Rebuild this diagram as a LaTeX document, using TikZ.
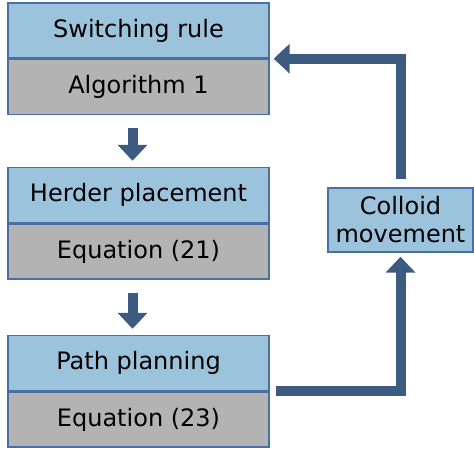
\documentclass[tikz,border=0pt]{standalone}
\usepackage{fontspec}
\setmainfont{DejaVu Sans}
\usepackage{tikz}
\usetikzlibrary{arrows.meta,positioning,calc}
\definecolor{headblue}{HTML}{9CC3DC}
\definecolor{bodygray}{HTML}{B3B3B3}
\definecolor{edgeblue}{HTML}{4A6FA5}
\definecolor{flowblue}{HTML}{3D5A80}

\begin{document}
\begin{tikzpicture}[x=0.5pt, y=-0.5pt,
        headbox/.style={draw=edgeblue, fill=headblue, line width=0.7pt, inner sep=0pt,
            minimum width=130.5pt, minimum height=27.5pt, font=\fontsize{12}{14}\selectfont},
        bodybox/.style={headbox, fill=bodygray},
        flow/.style={flowblue, line width=5pt, -{Triangle[width=14.5pt, length=8pt]}}]
        \useasboundingbox (0,0) rectangle (474,449);

        % Switching rule
        \node[headbox] (switch) at (138.5,30.5) {Switching rule};
        \node[bodybox, below=0pt of switch] (algo) {Algorithm 1};

        % Herder placement
        \node[headbox] (herder) at (138.5,195) {Herder placement};
        \node[bodybox, below=0pt of herder] (eq21) {Equation (21)};

        % Path planning
        \node[headbox] (path) at (138.5,363) {Path planning};
        \node[bodybox, below=0pt of path] (eq23) {Equation (23)};

        % Colloid movement
        \node[headbox, minimum width=72.5pt, minimum height=32pt, align=center]
            (colloid) at (400.5,220) {Colloid\\movement};

        % Arrows
        \draw[flow, shorten <=6.5pt, shorten >=3pt] ([xshift=-3pt]algo.south) -- ([xshift=-3pt]herder.north);
        \draw[flow, shorten <=6.5pt, shorten >=3pt] ([xshift=-3pt]eq21.south) -- ([xshift=-3pt]path.north);
        \draw[flow, shorten <=3pt, shorten >=2pt] (path.south east) -| (colloid.south);
        \draw[flow, shorten <=4pt, shorten >=2pt] (colloid.north) |- (switch.south east);
    \end{tikzpicture}
\end{document}
